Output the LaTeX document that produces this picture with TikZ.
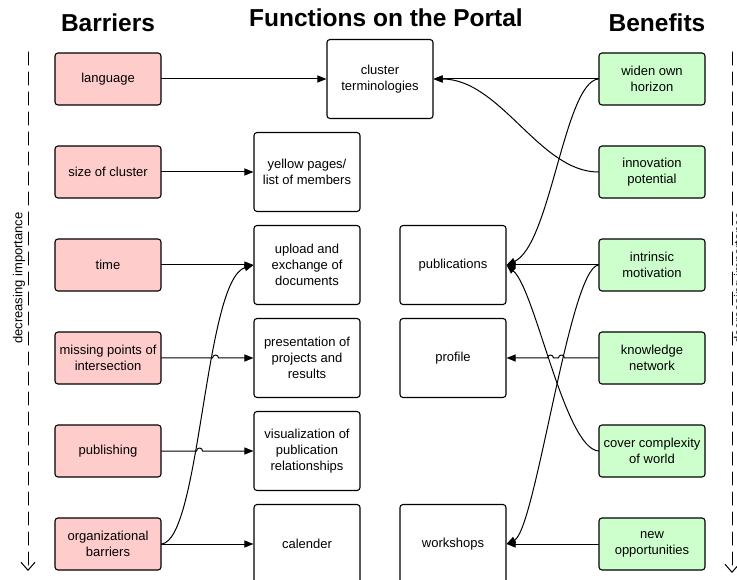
\documentclass[tikz,border=0pt]{standalone}
\usepackage{fontspec}
\setmainfont{Liberation Sans}
\usetikzlibrary{arrows.meta}
\begin{document}
\begin{tikzpicture}[x=1pt,y=-1pt,>={Triangle[length=9pt,width=7pt]},
	font=\fontsize{13}{16}\selectfont, line join=round, line cap=round,
	box/.style={draw=black,line width=1.1pt,rounded corners=3pt,minimum width=106pt,align=center,inner sep=1pt},
	barrier/.style={box,fill=red!20,minimum height=52pt},
	benefit/.style={box,fill=green!20,minimum height=52pt},
	func/.style={box,fill=white,minimum height=79pt},
	title/.style={font=\fontsize{24.5}{28}\selectfont\bfseries,anchor=base},
	link/.style={->,line width=1pt},
	imp/.style={-{Straight Barb[length=8pt,width=14pt]},dash pattern=on 13pt off 7pt,line width=1pt}]
	\clip (0,0) rectangle (737,580);
	\def\xbar{108} \def\xfun{307} \def\xpub{453} \def\xben{652}
	% titles
	\node[title] (tbar) at (\xbar,32) {Barriers};
	\node[title] (tfun) at (386,27) {Functions on the Portal};
	\node[title] (tben) at (657,32) {Benefits};
	% importance arrows
	\coordinate (ltop) at (28,52); \coordinate (lbot) at (28,571);
	\coordinate (rtop) at (732,52); \coordinate (rbot) at (732,573);
	\draw[imp] (ltop) -- (lbot);
	\draw[imp] (rtop) -- (rbot);
	\node[rotate=90,inner sep=0pt] (limp) at (19,278) {decreasing importance};
	\node[rotate=90,inner sep=0pt] (rimp) at (740,278) {decreasing importance};
	% barriers
	\node[barrier] (lang) at (\xbar,79) {language};
	\node[barrier] (size) at (\xbar,172) {size of cluster};
	\node[barrier] (time) at (\xbar,265) {time};
	\node[barrier] (miss) at (\xbar,358) {missing points of\\intersection};
	\node[barrier] (publ) at (\xbar,451) {publishing};
	\node[barrier] (orga) at (\xbar,544) {organizational\\barriers};
	% functions
	\node[func] (clust) at (380,79) {cluster\\terminologies};
	\node[func] (yellow) at (\xfun,172) {yellow pages/\\list of members};
	\node[func] (upload) at (\xfun,265) {upload and\\exchange of\\documents};
	\node[func] (present) at (\xfun,358) {presentation of\\projects and\\results};
	\node[func] (visual) at (\xfun,451) {visualization of\\publication\\relationships};
	\node[func] (calen) at (\xfun,544) {calender};
	\node[func] (pubs) at (\xpub,265) {publications};
	\node[func] (prof) at (\xpub,358) {profile};
	\node[func] (works) at (\xpub,544) {workshops};
	% benefits
	\node[benefit] (widen) at (\xben,79) {widen own\\horizon};
	\node[benefit] (innov) at (\xben,172) {innovation\\potential};
	\node[benefit] (intr) at (\xben,265) {intrinsic\\motivation};
	\node[benefit] (know) at (\xben,358) {knowledge\\network};
	\node[benefit] (cover) at (\xben,451) {cover complexity\\of world};
	\node[benefit] (newop) at (\xben,544) {new\\opportunities};
	% links from barriers
	\draw[link] (lang.east) -- (clust.west);
	\draw[link] (size.east) -- (yellow.west);
	\draw[link] (time.east) -- (upload.west);
	\draw[link] (miss.east) -- ++(51,0) arc[start angle=180,end angle=0,radius=3pt] -- (present.west);
	\draw[link] (publ.east) -- ++(35,0) arc[start angle=180,end angle=0,radius=3pt] -- (visual.west);
	\draw[link] (orga.east) -- (calen.west);
	\draw[link] (orga.east) .. controls +(39,-4) and +(-49,15) .. (upload.west);
	% links from benefits
	\draw[link] (widen.west) -- (clust.east);
	\draw[link] (widen.west) .. controls +(-34,3) and +(44,-20) .. (pubs.east);
	\draw[link] (innov.west) .. controls +(-59,0) and +(67,0) .. (clust.east);
	\draw[link] (intr.west) -- (pubs.east);
	\draw[link] (intr.west) .. controls +(-29,3) and +(29,-14) .. (works.east);
	\draw[link] (know.west) -- ++(-34,0) arc[start angle=0,end angle=180,radius=3pt] -- ++(-5,0)
		arc[start angle=0,end angle=180,radius=3pt] -- (prof.east);
	\draw[link] (cover.west) .. controls +(-34,-3) and +(29,25) .. (pubs.east);
	\draw[link] (newop.west) -- (works.east);
\end{tikzpicture}
\end{document}
